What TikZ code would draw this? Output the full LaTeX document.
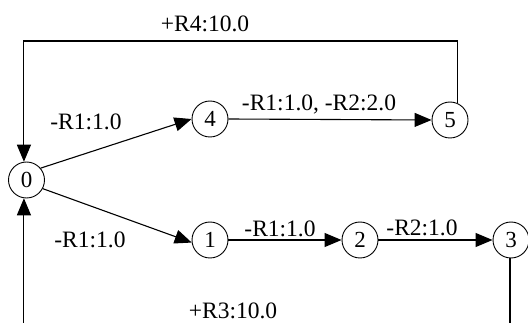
\documentclass[tikz,border=0pt]{standalone}
\usepackage{fontspec}
\setmainfont{Liberation Serif}
\usetikzlibrary{arrows.meta}
\begin{document}
\begin{tikzpicture}[x=1pt,y=-1pt,
  state/.style={circle,draw,line width=0.9pt,minimum size=36pt,inner sep=0pt,font=\fontsize{23}{23}\selectfont},
  lbl/.style={font=\fontsize{23.5}{24}\selectfont,inner sep=0pt},
  edge/.style={line width=1.1pt,-{Triangle[length=17pt,width=14pt]}}]
\useasboundingbox (0,0) rectangle (528,323);
\clip (0,0) rectangle (528,323);
\node[state] (n0) at (26.5,180) {0};
\node[state] (n4) at (210,119) {4};
\node[state] (n5) at (450,120) {5};
\node[state] (n1) at (210,240) {1};
\node[state] (n2) at (360,240) {2};
\node[state] (n3) at (511,240) {3};
\coordinate (top) at (0,41);
\coordinate (bot) at (0,345);
\draw[edge] (n0.40) -- (n4.west);
\draw[edge] (n4.east) -- (n5.west);
\draw[edge] (n0.-28) -- (n1.188);
\draw[edge] (n1.east) -- (n2.west);
\draw[edge] (n2.east) -- (n3.west);
\draw[edge] (n5.67) -- (n5.67 |- top) -| (n0.98);
\draw[edge] (n3.267) -- (n3.267 |- bot) -| (n0.262);
\node[lbl] (l4) at (205,24) {+R4:10.0};
\node[lbl] (l04) at (86,122) {-R1:1.0};
\node[lbl] (l45) at (319,104) {-R1:1.0, -R2:2.0};
\node[lbl] (l01) at (90,240) {-R1:1.0};
\node[lbl] (l12) at (280,229) {-R1:1.0};
\node[lbl] (l23) at (422,228) {-R2:1.0};
\node[lbl] (l3) at (233,311) {+R3:10.0};
\end{tikzpicture}
\end{document}
